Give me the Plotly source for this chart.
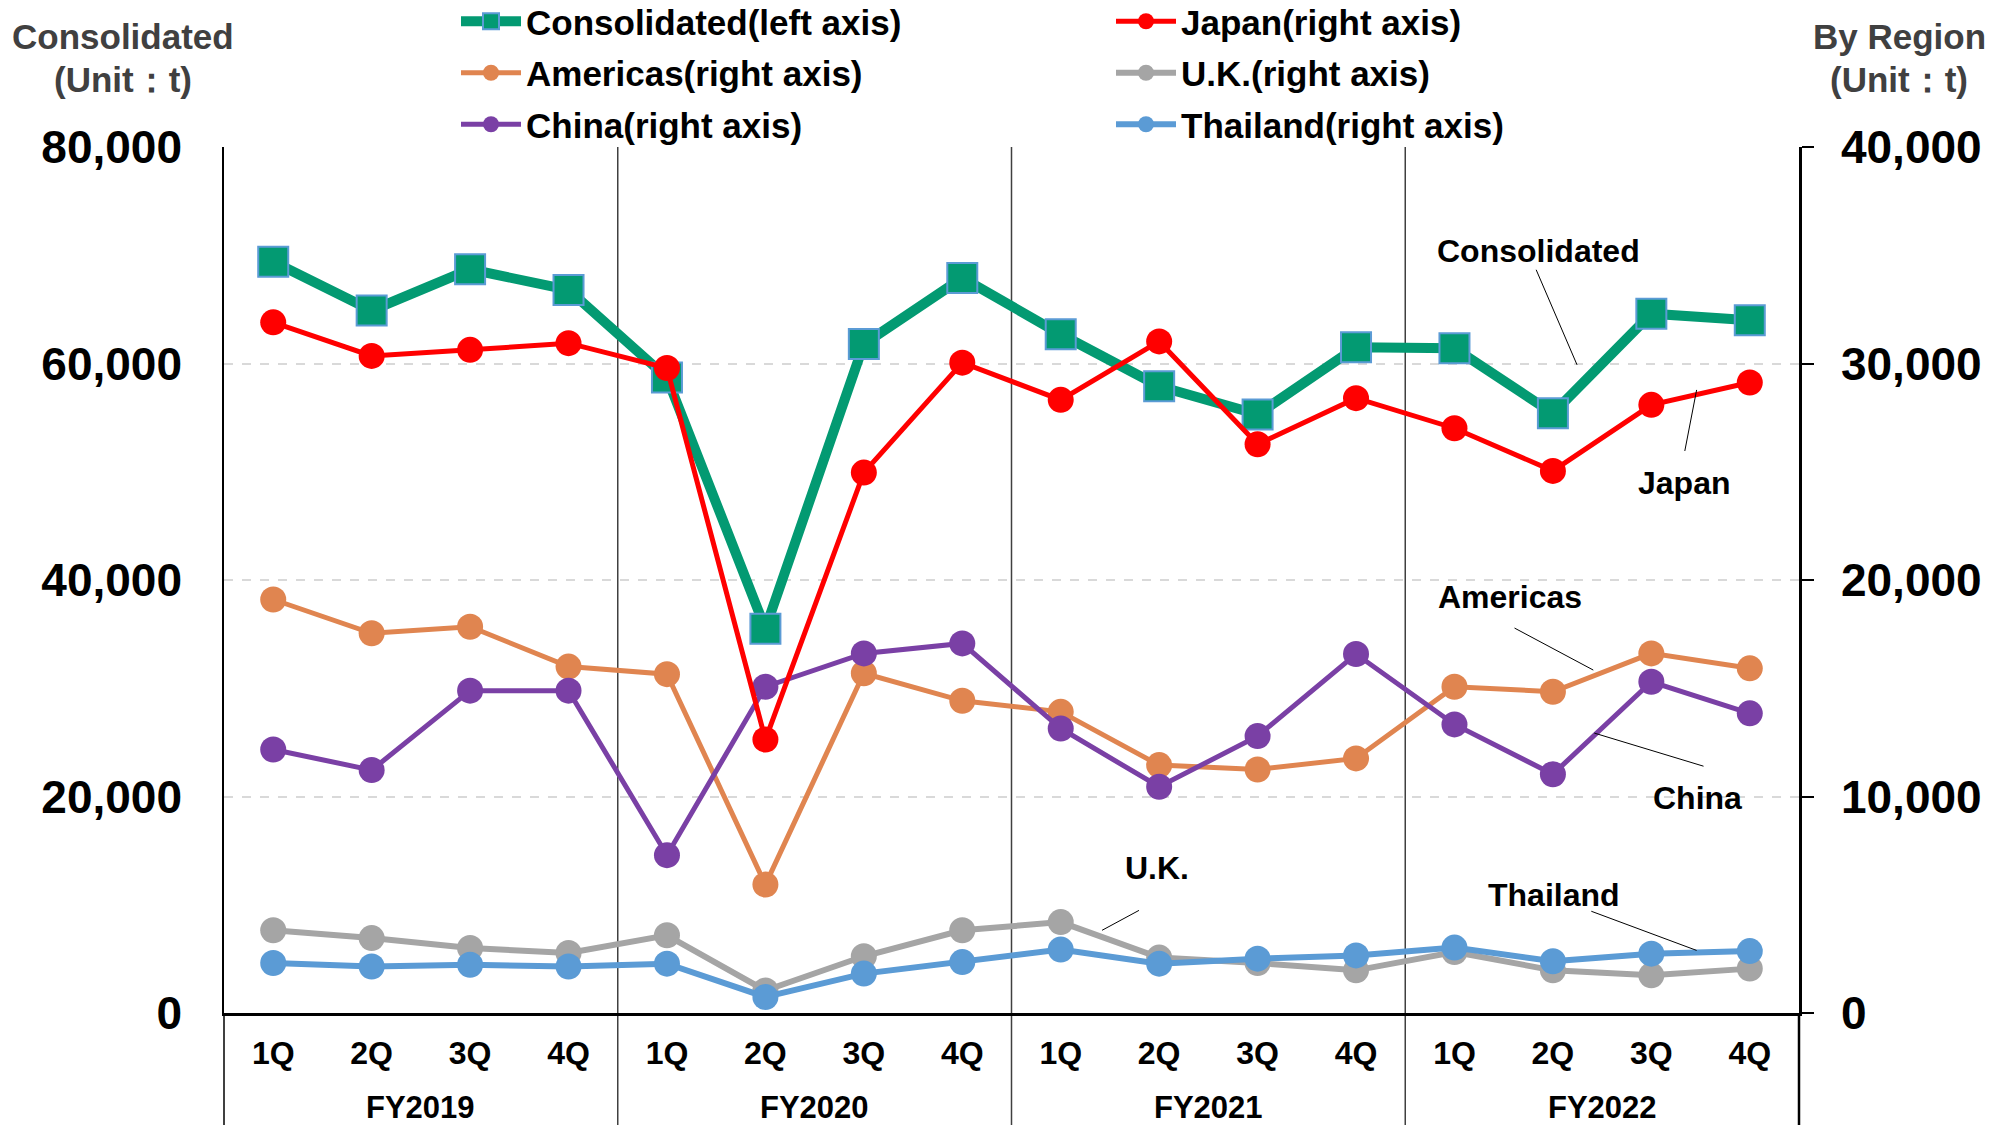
import plotly.graph_objects as go

# ---------------- data ----------------
quarters = ["1Q", "2Q", "3Q", "4Q"] * 4
fiscal_years = ["FY2019", "FY2020", "FY2021", "FY2022"]

consolidated = [69400, 64900, 68700, 66800, 58700, 35500, 61800, 67900,
                62700, 57900, 55300, 61500, 61400, 55400, 64600, 64000]
japan = [31900, 30350, 30630, 30940, 29790, 12630, 24960, 30040,
         28320, 31020, 26270, 28400, 27010, 25040, 28090, 29120]
americas = [19100, 17540, 17840, 16000, 15650, 5930, 15690, 14420,
            13910, 11450, 11250, 11760, 15070, 14840, 16610, 15920]
china = [12170, 11220, 14890, 14890, 7290, 15070, 16610, 17070,
         13140, 10450, 12790, 16580, 13330, 11030, 15300, 13840]
uk = [3820, 3460, 3000, 2770, 3590, 1040, 2620, 3820,
      4200, 2560, 2310, 1970, 2820, 1970, 1740, 2050]
thailand = [2310, 2150, 2230, 2150, 2280, 740, 1820, 2350,
            2930, 2280, 2510, 2660, 3020, 2390, 2740, 2860]

x_idx = list(range(len(quarters)))

FONT = "Liberation Sans, Arial, sans-serif"

fig = go.Figure()

def add_line(name, values, color, axis, legend, rank, width=5, size=26,
             symbol="circle", mline=None):
    marker = dict(color=color, size=size, symbol=symbol)
    if mline:
        marker["line"] = mline
    fig.add_trace(go.Scatter(
        x=x_idx, y=values, name=name, mode="lines+markers",
        line=dict(color=color, width=width), marker=marker,
        yaxis=axis, legend=legend, legendrank=rank, legendgroup=name,
        cliponaxis=False,
    ))

add_line("Consolidated(left axis)", consolidated, "#039A72", "y", "legend", 1,
         width=10, size=30, symbol="square",
         mline=dict(color="#5B9BD5", width=2))
add_line("U.K.(right axis)", uk, "#A5A5A5", "y2", "legend2", 2, width=6)
add_line("Thailand(right axis)", thailand, "#5B9BD5", "y2", "legend2", 3, width=6)
add_line("Americas(right axis)", americas, "#E08550", "y2", "legend", 2)
add_line("China(right axis)", china, "#7A40A5", "y2", "legend", 3)
add_line("Japan(right axis)", japan, "#FF0000", "y2", "legend2", 1)

# ---------------- shapes ----------------
shapes = []
bottom = -0.135
for k in range(1, len(fiscal_years)):
    shapes.append(dict(type="line", xref="x", yref="paper",
                       x0=k * 4 - 0.5, x1=k * 4 - 0.5, y0=bottom, y1=1,
                       line=dict(color="#404040", width=1.5), layer="below"))
shapes.append(dict(type="line", xref="paper", yref="paper", x0=0, x1=0,
                   y0=bottom, y1=0, line=dict(color="black", width=1.5)))
shapes.append(dict(type="line", xref="paper", yref="paper", x0=1, x1=1,
                   y0=bottom, y1=0, line=dict(color="black", width=2.5)))

# leader lines (in x / y2 coordinates)
leaders = [
    (12.83, 34330, 13.245, 29940),   # Consolidated
    (14.34, 25960, 14.46, 28780),    # Japan
    (12.61, 17780, 13.41, 15840),    # Americas
    (13.42, 12930, 14.53, 11400),    # China
    (13.39, 4700, 14.46, 2890),      # Thailand
    (8.795, 4740, 8.42, 3820),       # U.K.
]
for x0, y0, x1, y1 in leaders:
    shapes.append(dict(type="line", xref="x", yref="y2", x0=x0, y0=y0,
                       x1=x1, y1=y1, line=dict(color="black", width=1)))

# ---------------- annotations ----------------
ann = []
for i, fy in enumerate(fiscal_years):
    ann.append(dict(text=fy, x=i * 4 + 1.5, y=-0.109, xref="x", yref="paper",
                    showarrow=False, yanchor="middle", borderpad=0,
                    font=dict(family=FONT, size=31, color="black", weight="bold")))

labels = [
    ("Consolidated", 12.85, 35210),
    ("Japan", 14.33, 24480),
    ("Americas", 12.56, 19210),
    ("China", 14.47, 9920),
    ("Thailand", 13.01, 5440),
    ("U.K.", 8.98, 6690),
]
for t, x, y in labels:
    ann.append(dict(text=t, x=x, y=y, xref="x", yref="y2", showarrow=False,
                    font=dict(family=FONT, size=32, color="black", weight="bold")))

title_font = dict(family=FONT, size=35, color="#404040", weight="bold")
for t, x, y in [("Consolidated", -0.0641, 1.128), ("(Unit：t)", -0.0641, 1.0774),
                ("By Region", 1.0635, 1.128), ("(Unit：t)", 1.0635, 1.0774)]:
    ann.append(dict(text=t, x=x, y=y, xref="paper", yref="paper",
                    showarrow=False, xanchor="center", yanchor="middle",
                    font=title_font))

legend_common = dict(
    orientation="v", xref="paper", yref="paper", yanchor="top",
    xanchor="left", y=1.179, bgcolor="rgba(0,0,0,0)", itemwidth=60,
    tracegroupgap=3,
    font=dict(family=FONT, size=35, color="black", weight="bold"),
    traceorder="grouped",
)

fig.update_layout(
    template="none",
    width=2008, height=1125, autosize=False,
    margin=dict(l=224, r=209, t=147, b=112, pad=0, autoexpand=False),
    plot_bgcolor="white", paper_bgcolor="white",
    font=dict(family=FONT, color="black"),
    showlegend=True,
    legend=dict(x=(456 - 224) / 1575, **legend_common),
    legend2=dict(x=(1111 - 224) / 1575, **legend_common),
    xaxis=dict(range=[-0.5, 15.5], tickvals=x_idx, ticktext=quarters,
               automargin=False,
               showline=True, linecolor="black", linewidth=3, ticks="",
               showgrid=False, zeroline=False, ticklabelstandoff=10,
               tickfont=dict(family=FONT, size=32, color="black", weight="bold")),
    yaxis=dict(range=[0, 80000], dtick=20000, tickformat=",", automargin=False,
               showgrid=True, gridcolor="#D9D9D9", griddash="dash", gridwidth=2,
               showline=True, linecolor="black", linewidth=1.5, ticks="",
               zeroline=False, ticklabelstandoff=31,
               tickfont=dict(family=FONT, size=46, color="black", weight="bold")),
    yaxis2=dict(range=[0, 40000], dtick=10000, tickformat=",", automargin=False,
                overlaying="y", side="right", showgrid=False, zeroline=False,
                showline=True, linecolor="black", linewidth=2.5,
                ticks="outside", ticklen=12, tickwidth=2, tickcolor="black",
                ticklabelstandoff=18,
                tickfont=dict(family=FONT, size=46, color="black", weight="bold")),
    shapes=shapes,
    annotations=ann,
)

fig.write_html("out.html", config={"displayModeBar": False},
               post_script="document.body.style.margin='0px';document.body.style.overflow='hidden';")
